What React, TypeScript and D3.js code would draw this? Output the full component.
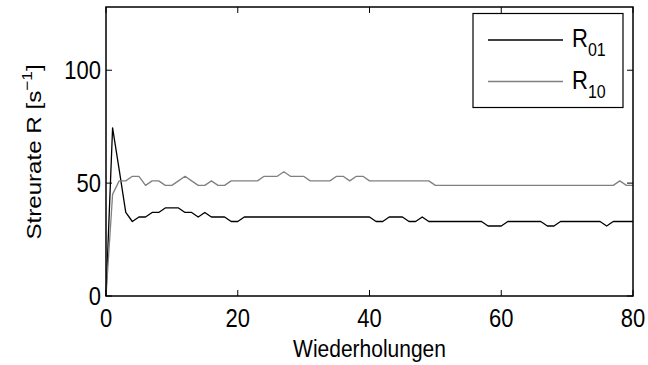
import React from "react";
import * as d3 from "d3";

const r01: number[] = [
  0, 74.5, 56, 37, 33, 35, 35, 37, 37, 39, 39, 39, 37, 37, 35, 37, 35, 35, 35, 33,
  33, 35, 35, 35, 35, 35, 35, 35, 35, 35, 35, 35, 35, 35, 35, 35, 35, 35, 35, 35,
  35, 33, 33, 35, 35, 35, 33, 33, 35, 33, 33, 33, 33, 33, 33, 33, 33, 33, 31, 31,
  31, 33, 33, 33, 33, 33, 33, 31, 31, 33, 33, 33, 33, 33, 33, 33, 31, 33, 33, 33,
  33,
];
const r10: number[] = [
  0, 45, 51, 51, 53, 53, 49, 51, 51, 49, 49, 51, 53, 51, 49, 49, 51, 49, 49, 51,
  51, 51, 51, 51, 53, 53, 53, 55, 53, 53, 53, 51, 51, 51, 51, 53, 53, 51, 53, 53,
  51, 51, 51, 51, 51, 51, 51, 51, 51, 51, 49, 49, 49, 49, 49, 49, 49, 49, 49, 49,
  49, 49, 49, 49, 49, 49, 49, 49, 49, 49, 49, 49, 49, 49, 49, 49, 49, 49, 51, 49,
  49,
];
const xTicks: number[] = [0, 20, 40, 60, 80];
const yTicks: number[] = [0, 50, 100];
const seriesNames: string[] = ["01", "10"];
const seriesColors: string[] = ["#000000", "#808080"];
const xLabel = "Wiederholungen";
const yLabel = "Streurate R [s";

const FONT = "'Liberation Sans', Arial, Helvetica, sans-serif";
const SY = 1.15;

export default function App() {
  const W = 648;
  const H = 365;
  const left = 106, right = 633, top = 7, bottom = 296;
  const x = d3.scaleLinear().domain([0, 80]).range([left, right]);
  const y = d3.scaleLinear().domain([0, 128]).range([bottom, top]);
  const line = d3
    .line<number>()
    .x((_, i) => x(i))
    .y((d) => y(d));
  const series = [r01, r10];
  const tick = 6;
  return (
    <svg
      width={W}
      height={H}
      style={{ position: "absolute", left: 0, top: 0, background: "#fff" }}
      fontFamily={FONT}
    >
      <rect x={0} y={0} width={W} height={H} fill="#fff" />
      {series.map((s, k) => (
        <path key={k} d={line(s) || ""} fill="none" stroke={seriesColors[k]} strokeWidth={1.3} strokeLinejoin="round" />
      ))}
      <rect x={left} y={top} width={right - left} height={bottom - top} fill="none" stroke="#000" strokeWidth={1.5} />
      {xTicks.map((t) => (
        <g key={"x" + t}>
          <line x1={x(t)} x2={x(t)} y1={bottom} y2={bottom - tick} stroke="#000" strokeWidth={1} />
          <line x1={x(t)} x2={x(t)} y1={top} y2={top + tick} stroke="#000" strokeWidth={1} />
          <text transform={`translate(${x(t)},327) scale(1,${SY})`} textAnchor="middle" fontSize={22}>
            {t}
          </text>
        </g>
      ))}
      {yTicks.map((t) => (
        <g key={"y" + t}>
          <line x1={left} x2={left + tick} y1={y(t)} y2={y(t)} stroke="#000" strokeWidth={1} />
          <line x1={right} x2={right - tick} y1={y(t)} y2={y(t)} stroke="#000" strokeWidth={1} />
          <text transform={`translate(101,${y(t) + 9}) scale(1,${SY})`} textAnchor="end" fontSize={22}>
            {t}
          </text>
        </g>
      ))}
      <text transform={`translate(${(left + right) / 2},357) scale(1,${SY})`} textAnchor="middle" fontSize={21}>
        {xLabel}
      </text>
      <text transform={`translate(41,${152}) rotate(-90) scale(${SY},1)`} textAnchor="middle" fontSize={21}>
        {yLabel}
        <tspan fontSize={15} dy={-9}>−1</tspan>
        <tspan dy={9}>]</tspan>
      </text>
      <g>
        <rect x={473} y={13.5} width={150} height={94} fill="#fff" stroke="#000" strokeWidth={1.2} />
        {seriesNames.map((n, k) => (
          <g key={n}>
            <line x1={488} x2={563} y1={40 + k * 41.5} y2={40 + k * 41.5} stroke={seriesColors[k]} strokeWidth={1.3} />
            <text transform={`translate(572,${47 + k * 41.5}) scale(1,${SY})`} fontSize={22}>
              R<tspan fontSize={16} dy={8}>{n}</tspan>
            </text>
          </g>
        ))}
      </g>
    </svg>
  );
}
